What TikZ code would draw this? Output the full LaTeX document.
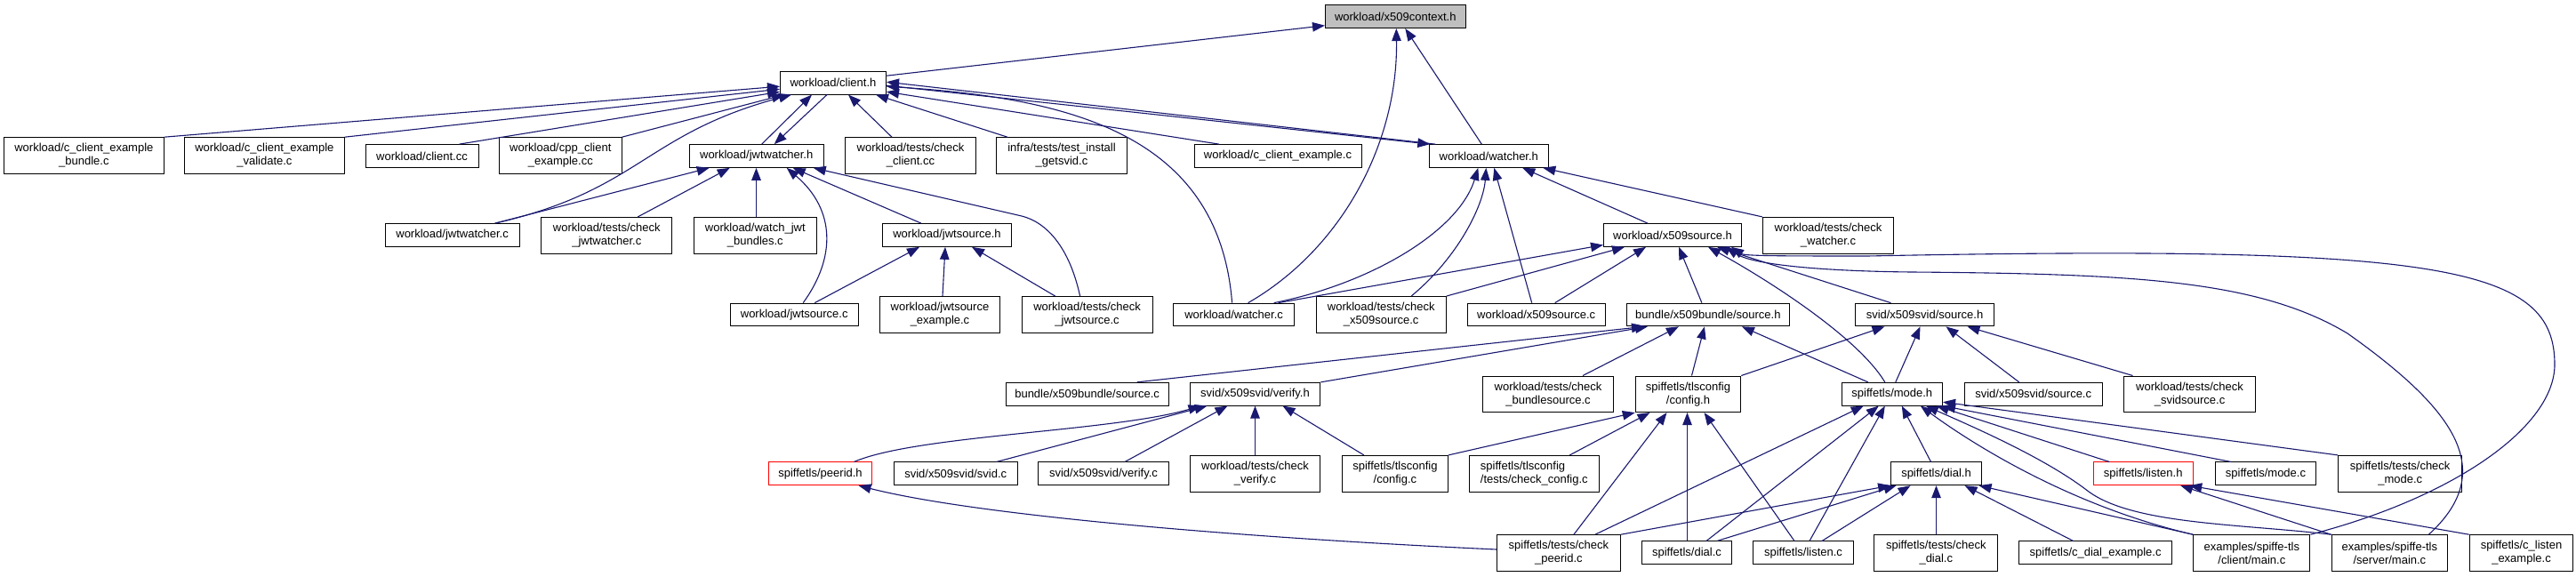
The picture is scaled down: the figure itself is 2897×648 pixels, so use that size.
\documentclass[tikz,border=0pt]{standalone}
\usepackage{fontspec}
\setmainfont{Liberation Sans}
\usetikzlibrary{arrows.meta}
\definecolor{edgeblue}{RGB}{25,25,112}
\definecolor{ctxgray}{RGB}{191,191,191}
\begin{document}
\begin{tikzpicture}[x=1pt,y=-1pt,
  box/.style={draw=black, line width=1pt, fill=white, font=\fontsize{13}{15}\selectfont, inner sep=0pt, minimum height=25.7pt, align=center},
  boxtwo/.style={box, minimum height=40.6pt},
  dep/.style={draw=edgeblue, line width=1.1pt, -{Triangle[length=14pt,width=10.5pt]}}]
\useasboundingbox (0,0) rectangle (2897,648);
\fill[white] (0,0) rectangle (2897,648);

% row 0,1
\node[box,minimum width=157.6pt,fill=ctxgray] (ctx) at (1569.3,18.7) {workload/x509context.h};
\node[box,minimum width=119pt] (clienth) at (937,93.2) {workload/client.h};
% row 2
\node[boxtwo,minimum width=179.3pt] (ccebundle) at (94.4,175) {workload/c\_client\_example\\\_bundle.c};
\node[boxtwo,minimum width=179.4pt] (ccevalidate) at (297.4,175) {workload/c\_client\_example\\\_validate.c};
\node[box,minimum width=127pt] (clientcc) at (474.5,175.5) {workload/client.cc};
\node[boxtwo,minimum width=137.4pt] (cppce) at (630.3,175) {workload/cpp\_client\\\_example.cc};
\node[box,minimum width=151pt] (jwtwh) at (850.7,175.5) {workload/jwtwatcher.h};
\node[boxtwo,minimum width=147pt] (checkclient) at (1024,175) {workload/tests/check\\\_client.cc};
\node[boxtwo,minimum width=146.4pt] (getsvid) at (1194,175) {infra/tests/test\_install\\\_getsvid.c};
\node[box,minimum width=188pt] (cce) at (1437,175.5) {workload/c\_client\_example.c};
\node[box,minimum width=134.5pt] (watcherh) at (1674.3,175.5) {workload/watcher.h};
% row 3
\node[box,minimum width=151pt] (jwtwc) at (508.6,264.5) {workload/jwtwatcher.c};
\node[boxtwo,minimum width=147pt] (checkjwtw) at (682.3,264.7) {workload/tests/check\\\_jwtwatcher.c};
\node[boxtwo,minimum width=138pt] (watchjwt) at (849.3,264.7) {workload/watch\_jwt\\\_bundles.c};
\node[box,minimum width=144.4pt] (jwtsh) at (1065,264.5) {workload/jwtsource.h};
\node[box,minimum width=155pt] (x509sh) at (1881,264.5) {workload/x509source.h};
\node[boxtwo,minimum width=147.3pt] (checkwatcher) at (2056,264.7) {workload/tests/check\\\_watcher.c};
% row 4
\node[box,minimum width=144.4pt] (jwtsc) at (893.2,354) {workload/jwtsource.c};
\node[boxtwo,minimum width=135pt] (jwtsex) at (1057,353.8) {workload/jwtsource\\\_example.c};
\node[boxtwo,minimum width=147pt] (checkjwts) at (1222.6,353.8) {workload/tests/check\\\_jwtsource.c};
\node[box,minimum width=135.5pt] (watcherc) at (1387.6,354) {workload/watcher.c};
\node[boxtwo,minimum width=146.3pt] (checkx509s) at (1553.2,353.8) {workload/tests/check\\\_x509source.c};
\node[box,minimum width=155.3pt] (x509sc) at (1727.7,354) {workload/x509source.c};
\node[box,minimum width=183pt] (bsh) at (1920.9,354) {bundle/x509bundle/source.h};
\node[box,minimum width=156pt] (ssh) at (2164.5,354) {svid/x509svid/source.h};
% row 5
\node[box,minimum width=183pt] (bsc) at (1222.6,443.2) {bundle/x509bundle/source.c};
\node[box,minimum width=146.6pt] (verifyh) at (1411.5,443.2) {svid/x509svid/verify.h};
\node[boxtwo,minimum width=147pt] (checkbs) at (1741,443.3) {workload/tests/check\\\_bundlesource.c};
\node[boxtwo,minimum width=118.5pt] (tlsh) at (1898.5,443.3) {spiffetls/tlsconfig\\/config.h};
\node[box,minimum width=113.5pt] (modeh) at (2127.8,443.2) {spiffetls/mode.h};
\node[box,minimum width=155.3pt] (ssc) at (2286.7,443.2) {svid/x509svid/source.c};
\node[boxtwo,minimum width=147.3pt] (checkss) at (2462.5,443.3) {workload/tests/check\\\_svidsource.c};
% row 6
\node[box,minimum width=116pt,draw=red] (peeridh) at (922.5,532.8) {spiffetls/peerid.h};
\node[box,minimum width=139.2pt] (svidc) at (1074.7,532.8) {svid/x509svid/svid.c};
\node[box,minimum width=147.2pt] (verifyc) at (1241,532.8) {svid/x509svid/verify.c};
\node[boxtwo,minimum width=146.6pt] (checkverify) at (1411.5,532.7) {workload/tests/check\\\_verify.c};
\node[boxtwo,minimum width=119pt] (tlsc) at (1568.9,532.7) {spiffetls/tlsconfig\\/config.c};
\node[boxtwo,minimum width=145.8pt,align=left] (checkconfig) at (1725.3,532.7) {spiffetls/tlsconfig\\/tests/check\_config.c};
\node[box,minimum width=101.8pt] (dialh) at (2177.5,532.8) {spiffetls/dial.h};
\node[box,minimum width=112.3pt,draw=red] (listenh) at (2410.2,532.8) {spiffetls/listen.h};
\node[box,minimum width=113.7pt] (modec) at (2548,532.8) {spiffetls/mode.c};
\node[boxtwo,minimum width=139.2pt] (checkmode) at (2699.2,532.7) {spiffetls/tests/check\\\_mode.c};
% row 7
\node[boxtwo,minimum width=138.8pt] (checkpeerid) at (1752.9,622) {spiffetls/tests/check\\\_peerid.c};
\node[box,minimum width=101.5pt] (dialc) at (1897,621.8) {spiffetls/dial.c};
\node[box,minimum width=112.3pt] (listenc) at (2028,621.8) {spiffetls/listen.c};
\node[boxtwo,minimum width=139pt] (checkdial) at (2177.3,622) {spiffetls/tests/check\\\_dial.c};
\node[box,minimum width=171.3pt] (cdial) at (2356.6,621.8) {spiffetls/c\_dial\_example.c};
\node[boxtwo,minimum width=131.2pt] (clientmain) at (2532.3,622) {examples/spiffe-tls\\/client/main.c};
\node[boxtwo,minimum width=130.7pt] (servermain) at (2687.4,622) {examples/spiffe-tls\\/server/main.c};
\node[boxtwo,minimum width=116.6pt] (clisten) at (2835.5,622) {spiffetls/c\_listen\\\_example.c};

% waypoints
\coordinate (kjw) at (1149,243);
\coordinate (cmR) at (2873,410);
\coordinate (cmT) at (2100,288);
\coordinate (smR) at (2640,375);
\coordinate (smT) at (2150,306);
\coordinate (smM) at (2349,553);

% into x509context.h
\draw[dep] ([yshift=8pt]clienth.east) -- ([yshift=-10pt]ctx.west);
\draw[dep] ([xshift=-8pt]watcherh.north) -- ([xshift=11pt]ctx.south);
\draw[dep] ([xshift=16pt]watcherc.north) .. controls +(106,-61) and +(2,128) .. ([xshift=1pt]ctx.south);

% into client.h
\draw[dep] (ccebundle.north east) -- ([yshift=-4pt]clienth.west);
\draw[dep] (ccevalidate.north east) -- ([yshift=-7pt]clienth.west);
\draw[dep] ([xshift=42pt]clientcc.north) -- ([yshift=-10pt]clienth.west);
\draw[dep] (cppce.north east) -- ([xshift=-55pt]clienth.south);
\draw[dep] ([xshift=48pt]jwtwc.north) .. controls +(163,-37) and +(-165,44) .. ([xshift=-47pt]clienth.south);
\draw[dep] ([xshift=6pt]jwtwh.north) -- ([xshift=-24pt]clienth.south);
\draw[dep] ([xshift=-21pt]checkclient.north) -- ([xshift=17pt]clienth.south);
\draw[dep] ([xshift=-61pt]getsvid.north) -- ([xshift=48pt]clienth.south);
\draw[dep] ([xshift=-66pt]cce.north) -- ([yshift=-10pt]clienth.east);
\draw[dep] ([xshift=-60pt]watcherh.north) -- ([yshift=1pt]clienth.east);
\draw[dep] ([xshift=-2pt]watcherc.north) .. controls +(-15,-191) and +(203.5,13) .. ([yshift=-4pt]clienth.east);

% into watcher.h / jwtwatcher.h from client.h
\draw[dep] ([yshift=-3pt]clienth.east) -- ([xshift=-66pt]watcherh.north);
\draw[dep] ([xshift=-7pt]clienth.south) -- ([xshift=20pt]jwtwh.north);

% into jwtwatcher.h
\draw[dep] ([xshift=48pt]jwtwc.north) -- ([xshift=-53pt]jwtwh.south);
\draw[dep] ([xshift=35pt]checkjwtw.north) -- ([xshift=-30pt]jwtwh.south);
\draw[dep] ([xshift=1.2pt]watchjwt.north) -- ([xshift=-0.2pt]jwtwh.south);
\draw[dep] ([xshift=10pt]jwtsc.north) .. controls +(37,-51) and +(55,47) .. ([xshift=34pt]jwtwh.south);
\draw[dep] ([xshift=-29pt]jwtsh.north) -- ([xshift=41pt]jwtwh.south);
\draw[dep] ([xshift=-8pt]checkjwts.north) .. controls +(-12,-55) and +(28,7) .. (kjw) -- ([xshift=64pt]jwtwh.south);

% into jwtsource.h
\draw[dep] ([xshift=23pt]jwtsc.north) -- ([xshift=-31pt]jwtsh.south);
\draw[dep] ([xshift=3pt]jwtsex.north) -- ([xshift=-2pt]jwtsh.south);
\draw[dep] ([xshift=-36pt]checkjwts.north) -- ([xshift=28pt]jwtsh.south);

% into watcher.h
\draw[dep] ([xshift=45pt]watcherc.north) .. controls +(107,-21) and +(-22,72) .. ([xshift=-12pt]watcherh.south);
\draw[dep] ([xshift=34pt]checkx509s.north) .. controls +(53,-44) and +(-3,42) .. ([xshift=-3pt]watcherh.south);
\draw[dep] ([xshift=-5pt]x509sc.north) -- ([xshift=6pt]watcherh.south);
\draw[dep] ([xshift=-28pt]x509sh.north) -- ([xshift=38pt]watcherh.south);
\draw[dep] (checkwatcher.north west) -- ([xshift=61pt]watcherh.south);

% into x509source.h
\draw[dep] ([xshift=50pt]watcherc.north) -- ([yshift=-11pt]x509sh.west);
\draw[dep] (checkx509s.north east) -- ([xshift=-54pt]x509sh.south);
\draw[dep] ([xshift=21pt]x509sc.north) -- ([xshift=-30pt]x509sh.south);
\draw[dep] ([xshift=-7pt]bsh.north) -- ([xshift=7pt]x509sh.south);
\draw[dep] ([xshift=-8pt]modeh.north) .. controls +(-30,-50) and +(69,38) .. ([xshift=40pt]x509sh.south);
\draw[dep] ([xshift=-38pt]ssh.north) -- ([xshift=50pt]x509sh.south);
\draw[dep] (clientmain.north east) .. controls +(162,-42) and +(0,70) .. (cmR)
  .. controls +(0,-110) and +(650,-13) .. (cmT)
  .. controls +(-100,0) and +(15,10) .. ([xshift=66pt]x509sh.south);
\draw[dep] ([xshift=44pt]servermain.north) .. controls +(79,-72) and +(120,85) .. (smR)
  .. controls +(-100,-60) and +(250,2) .. (smT)
  .. controls +(-100,-1) and +(30,20) .. ([xshift=60pt]x509sh.south);

% into bundle/x509bundle/source.h
\draw[dep] ([xshift=56pt]bsc.north) -- ([xshift=-72pt]bsh.south);
\draw[dep] (verifyh.north east) -- ([xshift=-68pt]bsh.south);
\draw[dep] ([xshift=39pt]checkbs.north) -- ([xshift=-33pt]bsh.south);
\draw[dep] ([xshift=4pt]tlsh.north) -- ([xshift=-4pt]bsh.south);
\draw[dep] ([xshift=-27pt]modeh.north) -- ([xshift=38pt]bsh.south);

% into svid/x509svid/source.h
\draw[dep] (tlsh.north east) -- ([xshift=-45pt]ssh.south);
\draw[dep] ([xshift=4pt]modeh.north) -- ([xshift=-5pt]ssh.south);
\draw[dep] ([xshift=-16pt]ssc.north) -- ([xshift=24pt]ssh.south);
\draw[dep] ([xshift=-64pt]checkss.north) -- ([xshift=48pt]ssh.south);

% into svid/x509svid/verify.h
\draw[dep] ([xshift=38pt]peeridh.north) .. controls +(69.5,-30) and +(-100,29) .. ([xshift=-61pt]verifyh.south);
\draw[dep] ([xshift=46pt]svidc.north) -- ([xshift=-54pt]verifyh.south);
\draw[dep] ([xshift=24pt]verifyc.north) -- ([xshift=-31pt]verifyh.south);
\draw[dep] (checkverify.north) -- (verifyh.south);
\draw[dep] ([xshift=-35pt]tlsc.north) -- ([xshift=31pt]verifyh.south);

% into tlsconfig/config.h
\draw[dep] (tlsc.north east) -- (tlsh.south west);
\draw[dep] ([xshift=40pt]checkconfig.north) -- ([xshift=-43pt]tlsh.south);
\draw[dep] ([xshift=17pt]checkpeerid.north) -- ([xshift=-24pt]tlsh.south);
\draw[dep] ([xshift=0.5pt]dialc.north) -- ([xshift=-1pt]tlsh.south);
\draw[dep] ([xshift=-10pt]listenc.north) -- ([xshift=18pt]tlsh.south);

% into mode.h
\draw[dep] ([xshift=41pt]checkpeerid.north) -- ([xshift=-32pt]modeh.south);
\draw[dep] ([xshift=22pt]dialc.north) -- ([xshift=-15pt]modeh.south);
\draw[dep] ([xshift=7pt]listenc.north) -- ([xshift=-8pt]modeh.south);
\draw[dep] ([xshift=-6pt]dialh.north) -- ([xshift=11pt]modeh.south);
\draw[dep] ([xshift=-38pt]listenh.north) -- ([xshift=50pt]modeh.south);
\draw[dep] ([xshift=-39pt]modec.north) -- (modeh.south east);
\draw[dep] (checkmode.north west) -- ([yshift=-9pt]modeh.east);
\draw[dep] (clientmain.north west) .. controls +(-137,-32) and +(60,44) .. ([xshift=32pt]modeh.south);
\draw[dep] (servermain.north west) .. controls +(-102,-12) and +(51,37) .. (smM)
  .. controls +(-49,-38) and +(54,24) .. ([xshift=38pt]modeh.south);

% into dial.h
\draw[dep] (checkpeerid.north east) -- (dialh.south west);
\draw[dep] ([xshift=34pt]dialc.north) -- ([xshift=-45pt]dialh.south);
\draw[dep] ([xshift=21pt]listenc.north) -- ([xshift=-29pt]dialh.south);
\draw[dep] ([xshift=0.2pt]checkdial.north) -- (dialh.south);
\draw[dep] ([xshift=-25pt]cdial.north) -- ([xshift=32pt]dialh.south);
\draw[dep] (clientmain.north west) -- ([xshift=48pt]dialh.south);

% into listen.h
\draw[dep] (servermain.north west) -- ([xshift=42pt]listenh.south);
\draw[dep] (clisten.north west) -- ([xshift=52pt]listenh.south);

% into peerid.h
\draw[dep] ([yshift=4pt]checkpeerid.west) .. controls +(-283.5,-13) and +(134.5,34) .. ([xshift=43pt]peeridh.south);
\end{tikzpicture}
\end{document}
